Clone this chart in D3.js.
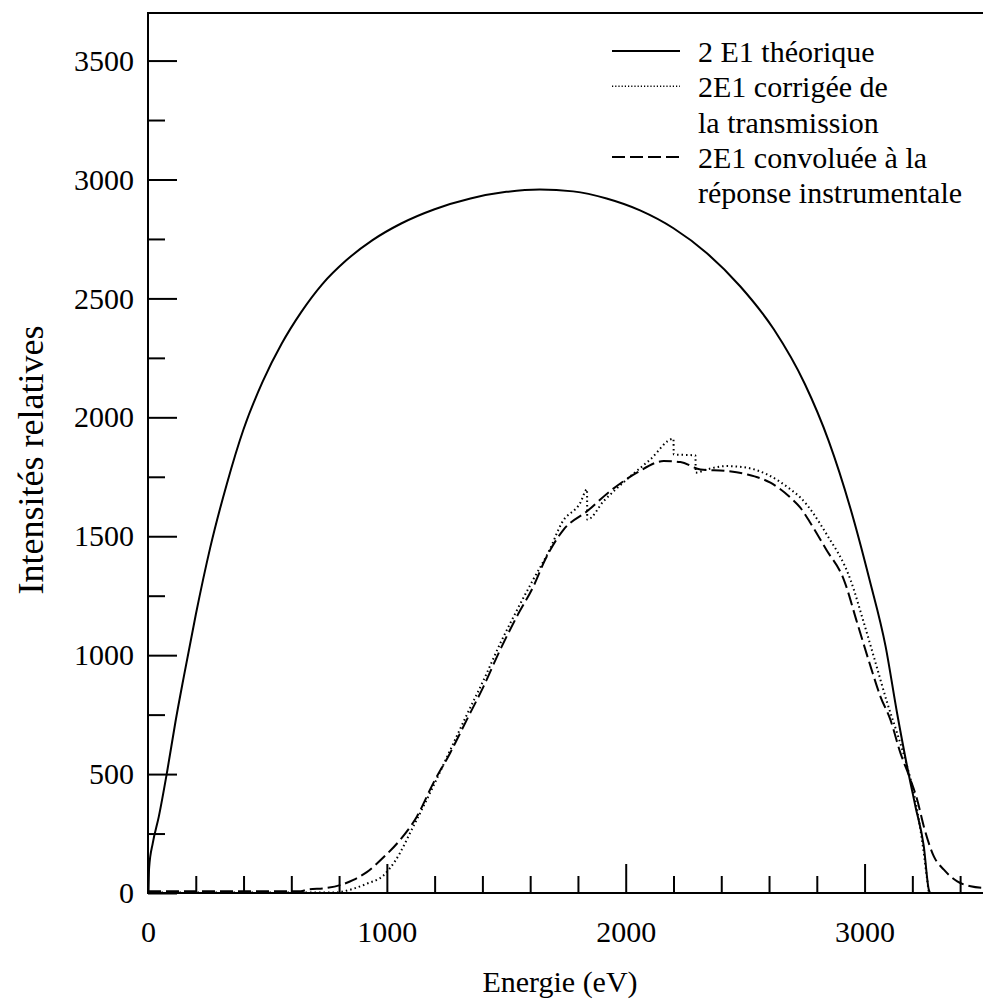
<!DOCTYPE html>
<html>
<head>
<meta charset="utf-8">
<script src="https://cdn.jsdelivr.net/npm/d3@7"></script>
<style>
  html, body { margin: 0; padding: 0; background: #fff; }
</style>
</head>
<body>
<div id="chart"></div>
<script>
// Values (energy in eV, relative intensity)
const theoE = [0, 5, 20, 45, 80, 115, 150, 200, 260, 330, 400, 480, 560, 640, 730, 830, 940, 1060, 1200, 1350, 1500, 1640, 1780, 1920, 2060, 2200, 2340, 2480, 2620, 2750, 2850, 2940, 3020, 3088, 3136, 3178, 3213, 3248, 3269, 3276, 3500];
const theoI = [0, 110, 210, 320, 510, 720, 910, 1170, 1450, 1720, 1950, 2150, 2310, 2440, 2560, 2660, 2745, 2815, 2875, 2920, 2948, 2958, 2950, 2920, 2870, 2795, 2690, 2550, 2370, 2140, 1900, 1620, 1320, 1037, 757, 533, 364, 196, 14, 0, 0];

const corrE = [0, 790, 804, 860, 916, 986, 1035, 1111, 1181, 1265, 1335, 1405, 1475, 1545, 1614, 1680, 1733, 1810, 1838, 1839, 1908, 2005, 2103, 2200, 2201, 2292, 2293, 2340, 2424, 2508, 2592, 2690, 2731, 2840, 2941, 2997, 3046, 3095, 3136, 3178, 3206, 3227, 3248, 3262, 3269, 3276, 3500];
const corrI = [2, 2, 4, 18, 39, 74, 135, 280, 421, 600, 750, 895, 1050, 1190, 1320, 1440, 1557, 1641, 1697, 1570, 1648, 1739, 1823, 1910, 1844, 1840, 1767, 1781, 1795, 1788, 1760, 1697, 1663, 1510, 1317, 1136, 968, 799, 673, 533, 421, 308, 168, 56, 7, 0, 0];

const convE = [0, 640, 665, 748, 804, 860, 916, 986, 1056, 1126, 1195, 1265, 1335, 1405, 1475, 1545, 1614, 1663, 1740, 1838, 1935, 2047, 2159, 2229, 2313, 2424, 2508, 2606, 2690, 2731, 2770, 2840, 2913, 2969, 3025, 3066, 3108, 3150, 3192, 3220, 3248, 3290, 3332, 3388, 3444, 3500];
const convI = [7, 7, 14, 21, 33, 55, 88, 150, 224, 322, 463, 589, 729, 869, 1024, 1164, 1290, 1402, 1528, 1605, 1690, 1767, 1816, 1812, 1781, 1774, 1760, 1725, 1662, 1620, 1561, 1443, 1318, 1136, 953, 827, 729, 589, 477, 393, 280, 154, 98, 49, 28, 21];

const xMajor = [0, 1000, 2000, 3000];
const xMinor = [200, 400, 600, 800, 1200, 1400, 1600, 1800, 2200, 2400, 2600, 2800, 3200, 3400];
const yMajor = [0, 500, 1000, 1500, 2000, 2500, 3000, 3500];
const yMinor = [250, 750, 1250, 1750, 2250, 2750, 3250];

const DOTS = '1.5,3';
const DASHES = '13,5';
const legendRows = [
    { lines: ['2 E1 théorique'], dash: null },
    { lines: ['2E1 corrigée de', 'la transmission'], dash: '1.2,2' },
    { lines: ['2E1 convoluée à la', 'réponse instrumentale'], dash: DASHES }
];

const FONT = '"Liberation Serif", "Times New Roman", Times, "DejaVu Serif", serif';
const W = 983, H = 1003;
const margin = { top: 13, right: -1, bottom: 110, left: 148 };
const width = W - margin.left - margin.right;
const height = H - margin.top - margin.bottom;

const svg = d3.select('#chart')
    .append('svg')
    .attr('width', W)
    .attr('height', H)
    .style('font-family', FONT)
    .append('g')
    .attr('transform', `translate(${margin.left},${margin.top})`);

const x = d3.scaleLinear().domain([0, 3500]).range([0, width]);
const y = d3.scaleLinear().domain([0, 3700]).range([height, 0]);

// Axes (ticks point inwards)
const fontSize = '30px';
function styleAxis(g) {
    g.attr('font-family', FONT);
    g.select('.domain').remove();
    g.selectAll('line').attr('stroke', '#000').attr('stroke-width', 2);
    g.selectAll('text').style('font-size', fontSize).style('font-family', FONT).attr('fill', '#000');
}

svg.append('g')
    .attr('transform', `translate(0,${height})`)
    .call(d3.axisBottom(x).tickValues(xMajor).tickSizeInner(-29).tickSizeOuter(0).tickPadding(28).tickFormat(d3.format('d')))
    .call(styleAxis);

svg.append('g')
    .attr('transform', `translate(0,${height})`)
    .call(d3.axisBottom(x).tickValues(xMinor).tickSizeInner(-17).tickSizeOuter(0).tickFormat(''))
    .call(styleAxis);

svg.append('g')
    .call(d3.axisLeft(y).tickValues(yMajor).tickSizeInner(-29).tickSizeOuter(0).tickPadding(14).tickFormat(d3.format('d')))
    .call(styleAxis);

svg.append('g')
    .call(d3.axisLeft(y).tickValues(yMinor).tickSizeInner(-17).tickSizeOuter(0).tickFormat(''))
    .call(styleAxis);

// Frame
svg.append('rect')
    .attr('x', 0)
    .attr('y', 0)
    .attr('width', width)
    .attr('height', height)
    .attr('fill', 'none')
    .attr('stroke', '#000')
    .attr('stroke-width', 2);

// Curves
const line = d3.line()
    .x(d => x(d[0]))
    .y(d => y(d[1]))
    .curve(d3.curveMonotoneX);

const series = [
    { E: theoE, I: theoI, dash: null },
    { E: corrE, I: corrI, dash: DOTS },
    { E: convE, I: convI, dash: DASHES }
];

series.forEach(s => {
    svg.append('path')
        .datum(s.E.map((e, i) => [e, s.I[i]]))
        .attr('d', line)
        .attr('fill', 'none')
        .attr('stroke', '#000')
        .attr('stroke-width', 2)
        .attr('stroke-dasharray', s.dash);
});

// Axis titles
svg.append('text')
    .attr('x', width / 2 - 6)
    .attr('y', height + 99)
    .attr('text-anchor', 'middle')
    .style('font-family', FONT)
    .style('font-size', fontSize)
    .text('Energie (eV)');

svg.append('text')
    .attr('transform', 'rotate(-90)')
    .attr('x', -(460 - margin.top))
    .attr('y', 43 - margin.left)
    .attr('text-anchor', 'middle')
    .style('font-family', FONT)
    .style('font-size', '36px')
    .text('Intensités relatives');

// Legend
const legend = svg.append('g')
    .attr('transform', `translate(${612 - margin.left}, ${62 - margin.top})`);

let row = 0;
legendRows.forEach(item => {
    legend.append('line')
        .attr('x1', 0)
        .attr('x2', 68)
        .attr('y1', row * 35.3 - 11)
        .attr('y2', row * 35.3 - 11)
        .attr('stroke', '#000')
        .attr('stroke-width', item.dash === '1.2,2' ? 1.5 : 2)
        .attr('stroke-dasharray', item.dash);
    item.lines.forEach(t => {
        legend.append('text')
            .attr('x', 86)
            .attr('y', row * 35.3)
            .style('font-family', FONT)
            .style('font-size', fontSize)
            .text(t);
        row++;
    });
});
</script>
</body>
</html>
